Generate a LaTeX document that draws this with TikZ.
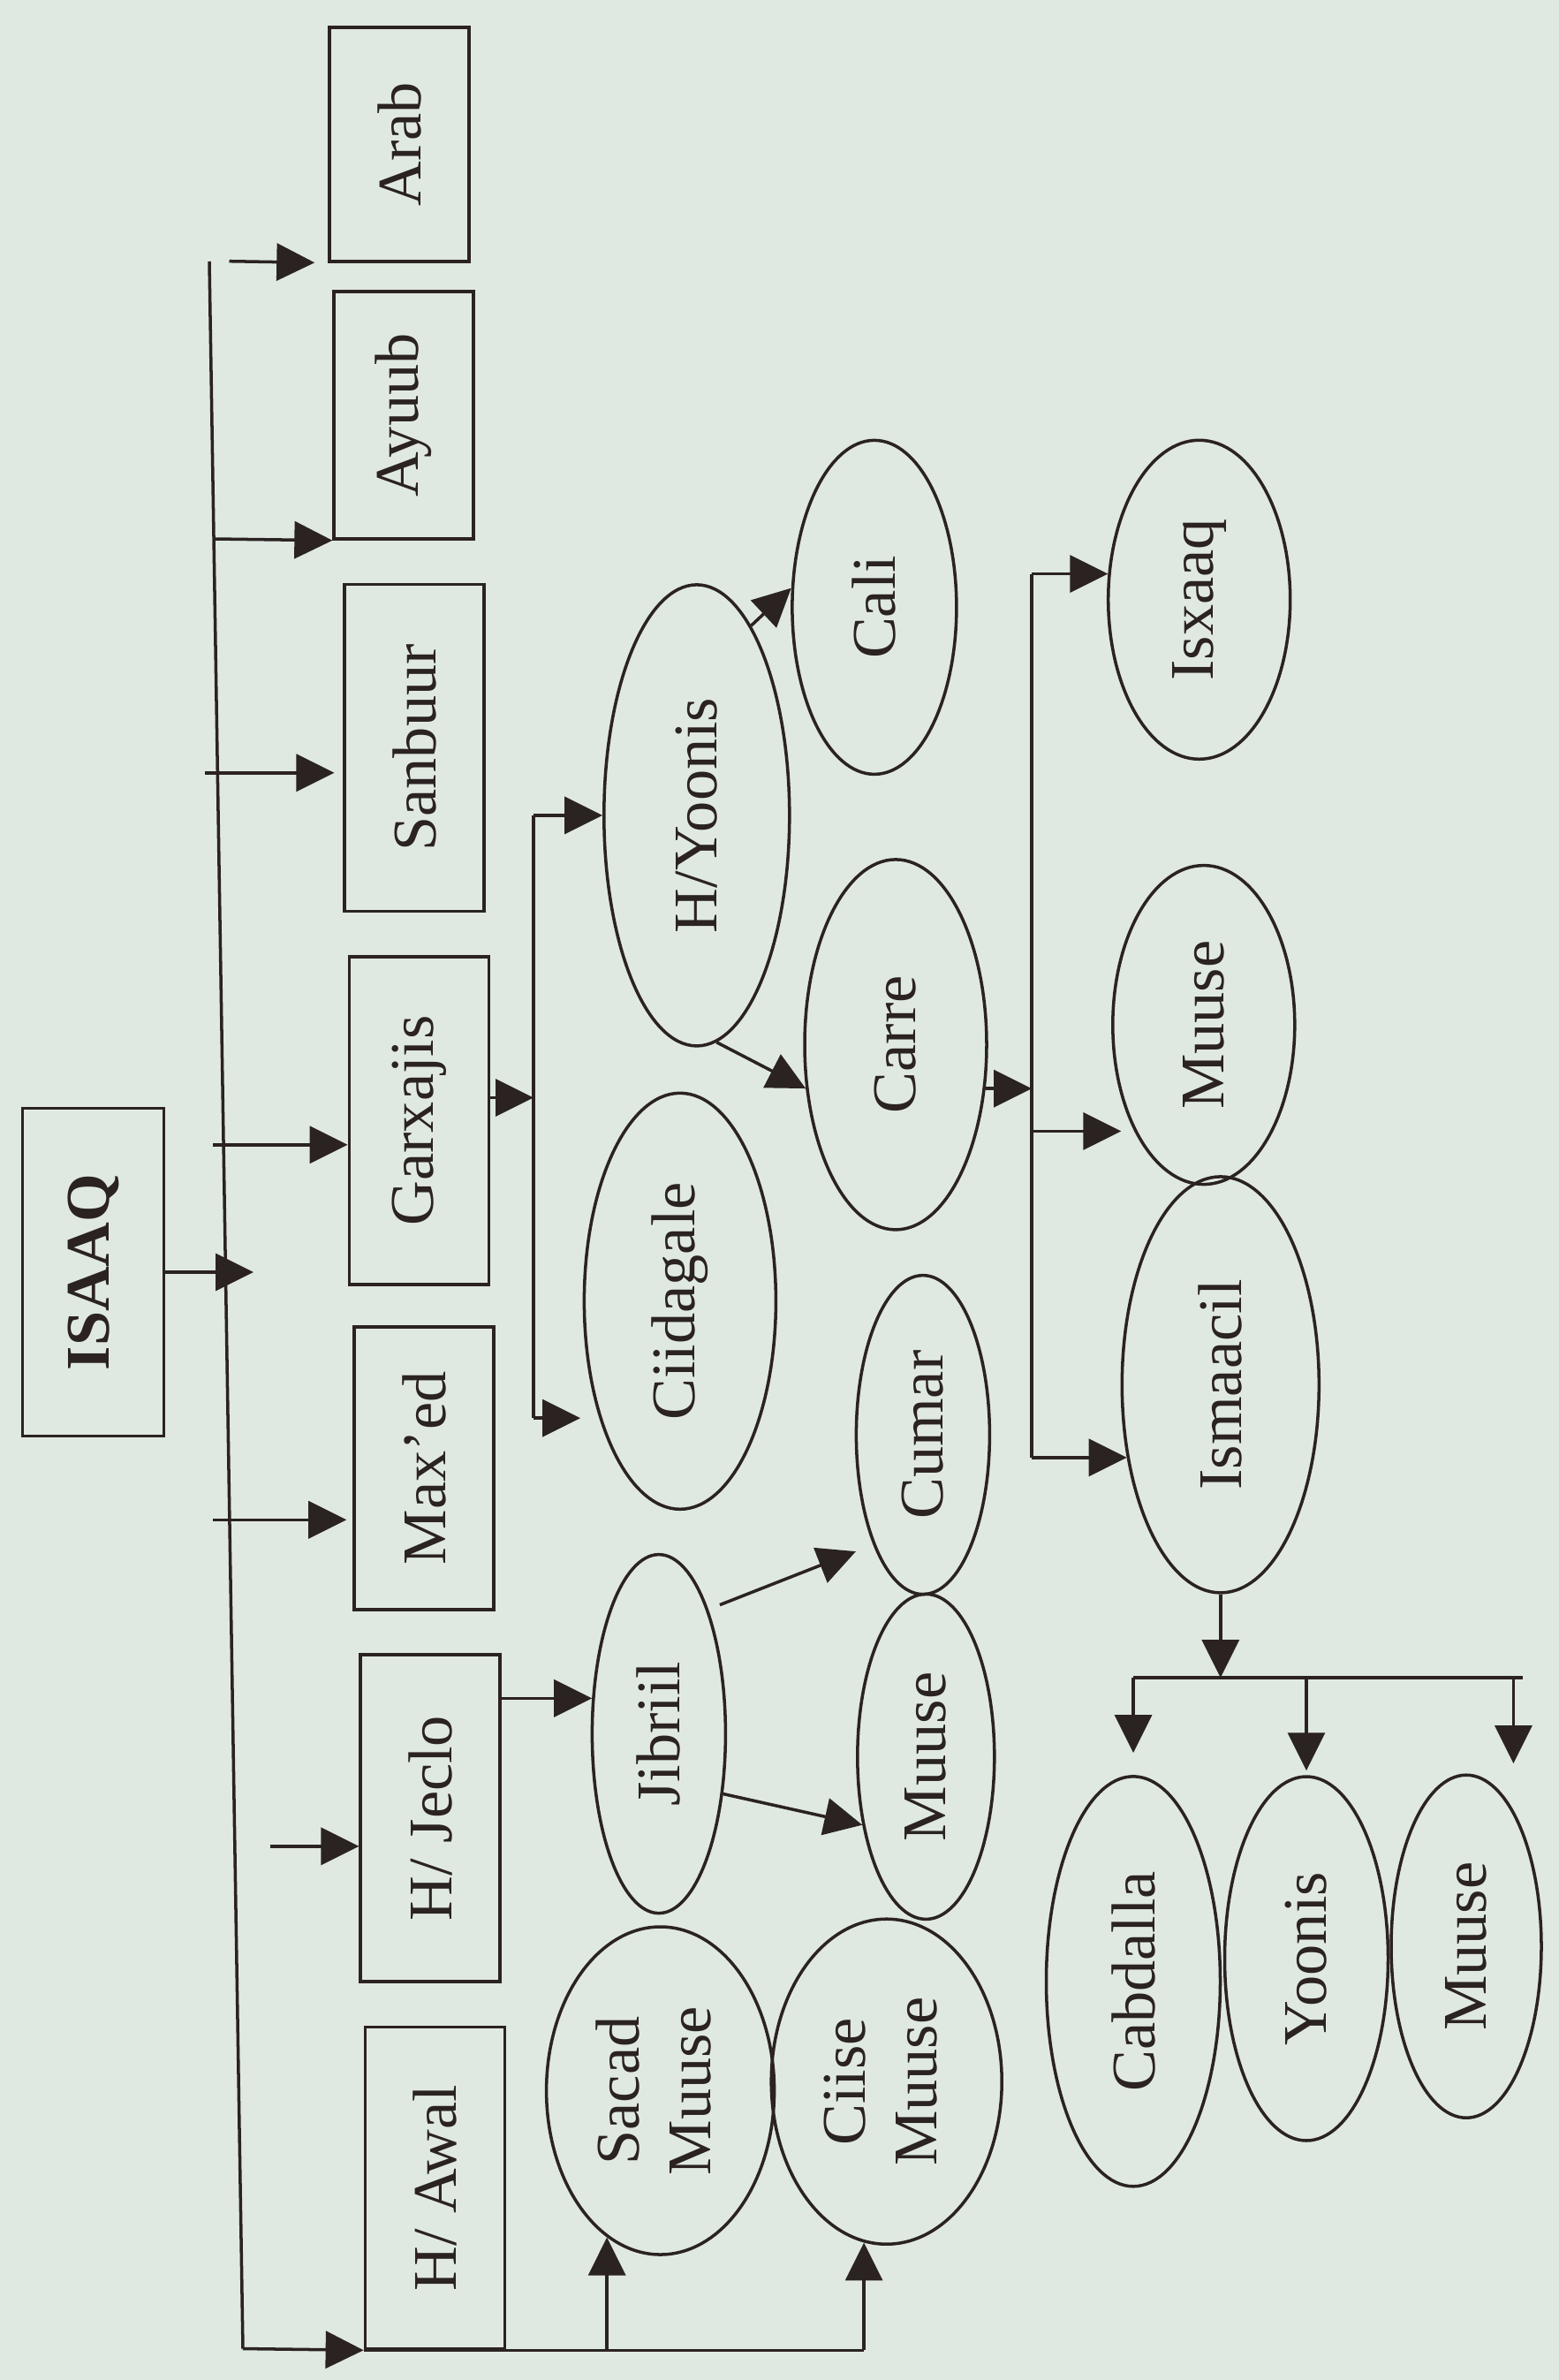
\documentclass[tikz,border=0pt]{standalone}
\usepackage{fontspec}
\setmainfont{Liberation Serif}
\usepackage{graphicx}
\usetikzlibrary{
  arrows.meta,
  positioning,
  calc,
  shapes.geometric
}
\definecolor{paper}{HTML}{DFE9E2}
\definecolor{ink}{HTML}{2B2222}
\newcommand{\vt}[1]{\rotatebox{90}{#1}}
\newcommand{\vtt}[2]{\rotatebox{90}{\begin{tabular}{@{}c@{}}#1\\#2\end{tabular}}}

\begin{document}
\begin{tikzpicture}[
  line width=1pt, color=ink,
  clan/.style={draw, rectangle, minimum width=1.58cm, inner sep=0pt,
               font=\fontsize{20}{23}\selectfont},
  sub/.style={draw, ellipse, inner sep=0pt,
              font=\fontsize{20}{23}\selectfont},
  arr/.style={-{Triangle[length=4.3mm,width=4.2mm]}},
]
  % Page
  \fill[paper] (0,0) rectangle (17.65,-26.94);
  \useasboundingbox (0,0) rectangle (17.65,-26.94);

  % Root and clans
  \node[clan, minimum width=1.60cm, minimum height=3.71cm,
        font=\bfseries\fontsize{20}{23}\selectfont]
    (isaaq) at (1.057,-14.40) {\vt{ISAAQ}};
  \node[clan, minimum height=2.65cm] (arab)     at (4.52,-1.633)  {\vt{Arab}};
  \node[clan, minimum height=2.80cm] (ayuub)    at (4.571,-4.70)  {\vt{Ayuub}};
  \node[clan, minimum height=3.70cm] (sanbuur)  at (4.692,-8.464) {\vt{Sanbuur}};
  \node[clan, minimum height=3.71cm] (garxajis) at (4.743,-12.683) {\vt{Garxajis}};
  \node[clan, minimum height=3.20cm] (maxed)    at (4.80,-16.619) {\vt{Max’ed}};
  \node[clan, minimum height=3.70cm] (jeclo)    at (4.872,-20.58) {\vt{H/ Jeclo}};
  \node[clan, minimum height=3.64cm] (awal)     at (4.924,-24.765) {\vt{H/ Awal}};

  % Sub-clans
  \node[sub, minimum width=2.10cm, minimum height=5.22cm] (hyoonis)   at (7.888,-9.229)  {\vt{H/Yoonis}};
  \node[sub, minimum width=1.86cm, minimum height=3.78cm] (cali)      at (9.899,-6.874)  {\vt{Cali}};
  \node[sub, minimum width=2.06cm, minimum height=4.19cm] (carre)     at (10.140,-11.824) {\vt{Carre}};
  \node[sub, minimum width=2.17cm, minimum height=4.71cm] (ciidagale) at (7.699,-14.728) {\vt{Ciidagale}};
  \node[sub, minimum width=1.51cm, minimum height=3.61cm] (cumar)     at (10.449,-16.241) {\vt{Cumar}};
  \node[sub, minimum width=1.51cm, minimum height=4.06cm] (jibriil)   at (7.459,-19.626) {\vt{Jibriil}};
  \node[sub, minimum width=1.55cm, minimum height=3.68cm] (muuseA)    at (10.483,-19.884) {\vt{Muuse}};
  \node[sub, minimum width=2.58cm, minimum height=3.71cm] (sacad)     at (7.476,-23.665) {\vtt{Sacad}{Muuse}};
  \node[sub, minimum width=2.61cm, minimum height=3.68cm] (ciise)     at (10.037,-23.562) {\vtt{Ciise}{Muuse}};
  \node[sub, minimum width=2.06cm, minimum height=3.61cm] (isxaaq)    at (13.577,-6.788) {\vt{Isxaaq}};
  \node[sub, minimum width=2.06cm, minimum height=3.61cm] (muuseB)    at (13.628,-11.601) {\vt{Muuse}};
  \node[sub, minimum width=2.23cm, minimum height=4.71cm] (ismaacil)  at (13.818,-15.674) {\vt{Ismaacil}};
  \node[sub, minimum width=1.97cm, minimum height=4.64cm] (cabdalla)  at (12.83,-22.428) {\vt{Cabdalla}};
  \node[sub, minimum width=1.85cm, minimum height=4.12cm] (yoonis)    at (14.79,-22.170) {\vt{Yoonis}};
  \node[sub, minimum width=1.70cm, minimum height=3.88cm] (muuseC)    at (16.60,-22.032) {\vt{Muuse}};

  % Trunk from ISAAQ to the clans
  \coordinate (ttop) at (2.37,-2.96);
  \coordinate (tbot) at (2.75,-26.585);
  \draw (ttop) -- (tbot);
  \coordinate (isaaqto) at (2.87,-14.40);
  \draw[arr] (isaaq.east) -- (isaaqto);

  \coordinate (arabfrom)     at (2.595,-2.957);
  \coordinate (ayuubfrom)    at (2.42,-6.10);
  \coordinate (sanbuurfrom)  at (2.32,-8.748);
  \coordinate (garxajisfrom) at (2.41,-12.958);
  \coordinate (maxedfrom)    at (2.41,-17.203);
  \coordinate (jeclofrom)    at (3.06,-20.898);
  \draw[arr, shorten >=1.5mm] (arabfrom) -- (arab.south west);
  \draw[arr] (ayuubfrom) -- (ayuub.south west);
  \draw[arr, shorten >=1mm] (sanbuurfrom) -- (sanbuurfrom -| sanbuur.west);
  \draw[arr] (garxajisfrom) -- (garxajisfrom -| garxajis.west);
  \draw[arr, shorten >=0.7mm] (maxedfrom) -- (maxedfrom -| maxed.west);
  \draw[arr] (jeclofrom) -- (jeclofrom -| jeclo.west);

  % H/ Awal line
  \coordinate (sacadfoot) at (sacad.250 |- awal.south);
  \coordinate (ciisefoot) at (ciise.262 |- awal.south);
  \draw[arr] (tbot) -- (awal.south west);
  \draw (awal.south west) -- (ciisefoot);
  \draw[arr] (sacadfoot) -- (sacad.250);
  \draw[arr] (ciisefoot) -- (ciise.262);

  % Garxajis
  \coordinate (gxmid) at (6.04,-12.425);
  \coordinate (gxtop) at (6.04,-9.229);
  \coordinate (gxbot) at (6.04,-16.052);
  \draw[arr] (gxmid -| garxajis.east) -- (gxmid);
  \draw (gxtop) -- (gxbot);
  \draw[arr] (gxtop) -- (hyoonis.west);
  \draw[arr, shorten >=2.2mm] (gxbot) -- (gxbot -| ciidagale.236);
  \draw[arr] (hyoonis.74) -- (cali.167);
  \draw[arr] (hyoonis.275) -- (carre.206);

  % Carre
  \coordinate (cjtop)   at (11.68,-6.496);
  \coordinate (cjmid)   at (11.68,-12.322);
  \coordinate (cjmuuse) at (11.68,-12.804);
  \coordinate (cjbot)   at (11.68,-16.499);
  \draw[arr] (cjmid -| carre.333) -- (cjmid);
  \draw (cjtop) -- (cjbot);
  \draw[arr] (cjtop) -- (cjtop -| isxaaq.164);
  \draw[arr, shorten >=1.5mm] (cjmuuse) -- (cjmuuse -| muuseB.237);
  \draw[arr] (cjbot) -- (cjbot -| ismaacil.218);

  % Ismaacil
  \coordinate (barlevel) at (0,-18.991);
  \coordinate (barend)   at (17.24,-18.991);
  \coordinate (muuseCdrop) at (17.134,-18.991);
  \coordinate (muuseCtip)  at (17.134,-19.96);
  \draw[arr] (ismaacil.south) -- (ismaacil.south |- barlevel);
  \draw (cabdalla.north |- barlevel) -- (barend);
  \draw[arr, shorten >=2.5mm] (cabdalla.north |- barlevel) -- (cabdalla.north);
  \draw[arr, shorten >=0.5mm] (yoonis.north |- barlevel) -- (yoonis.north);
  \draw[arr] (muuseCdrop) -- (muuseCtip);

  % H/ Jeclo
  \coordinate (jcfrom) at ($(jibriil.center)+(0.69,1.46)$);
  \coordinate (jcto)   at ($(cumar.center)+(-0.76,-1.32)$);
  \draw[arr] (jibriil.152 -| jeclo.east) -- (jibriil.152);
  \draw[arr] (jcfrom) -- (jcto);
  \draw[arr] (jibriil.317) -- (muuseA.227);

\end{tikzpicture}
\end{document}
